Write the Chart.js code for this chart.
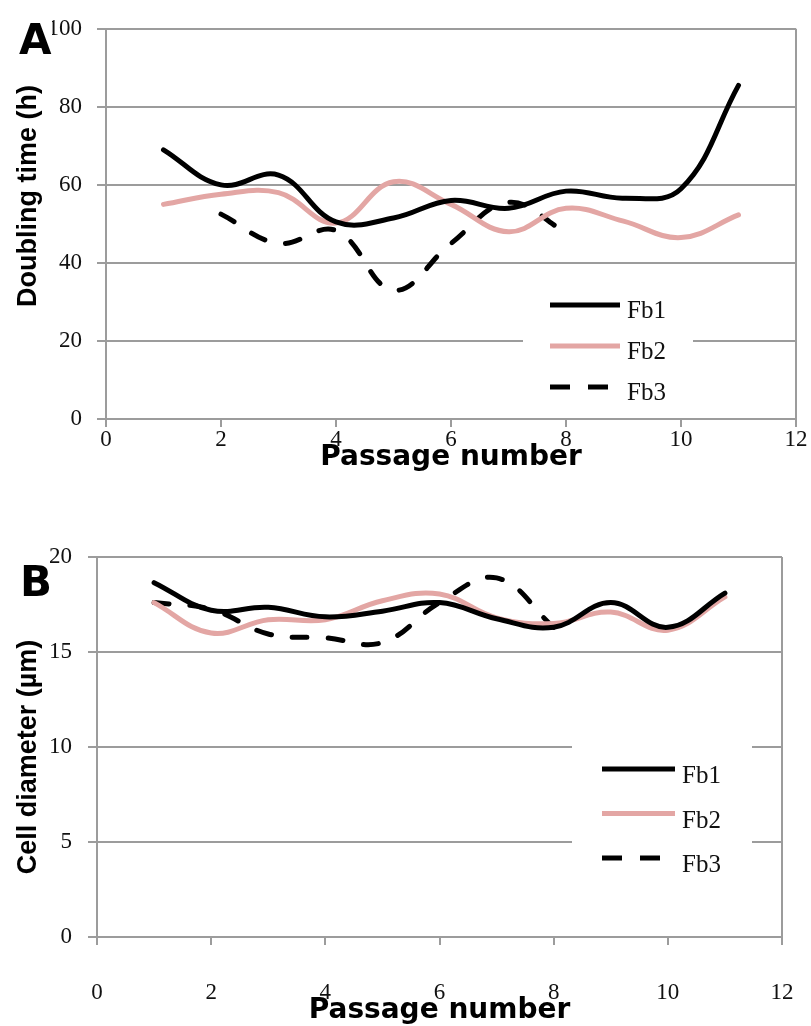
<!DOCTYPE html>
<html>
<head>
<meta charset="utf-8">
<script src="https://cdn.jsdelivr.net/npm/chart.js@4.4.1/dist/chart.umd.min.js"></script>
<style>
  html, body { margin: 0; padding: 0; background: #ffffff; }
  body { width: 811px; height: 1026px; position: relative; overflow: hidden; }
  .wrap { position: absolute; left: 0; width: 811px; }
  #wa { top: 0; height: 475px; }
  #wb { top: 490px; height: 536px; }
  canvas { display: block; }
</style>
</head>
<body>
<div class="wrap" id="wa"><canvas id="ca" width="811" height="475"></canvas></div>
<div class="wrap" id="wb"><canvas id="cb" width="811" height="536"></canvas></div>
<script>
// ---------------- data ----------------
const passage = [1, 2, 3, 4, 5, 6, 7, 8, 9, 10, 11];
const seriesNames = ['Fb1', 'Fb2', 'Fb3'];

// Panel A: doubling time (h)
const fb1Doubling = [69, 60, 62.5, 50.5, 51.5, 56, 54, 58.4, 56.6, 59, 85.5];
const fb2Doubling = [55, 57.6, 58, 50.2, 60.8, 55, 48, 54, 50.7, 46.5, 52.3];
const fb3Doubling = [null, 52.5, 45, 48.3, 33, 45, 55.5, 47.8, null, null, null];

// Panel B: cell diameter (µm)
const fb1Diameter = [18.65, 17.2, 17.35, 16.85, 17.15, 17.6, 16.75, 16.3, 17.6, 16.3, 18.1];
const fb2Diameter = [17.6, 16.0, 16.7, 16.7, 17.7, 18.05, 16.8, 16.5, 17.1, 16.15, 17.9];
const fb3Diameter = [17.6, 17.25, 15.95, 15.75, 15.5, 17.6, 18.9, 16.3, null, null, null];

const xTicks = [0, 2, 4, 6, 8, 10, 12];
const doublingTicks = [0, 20, 40, 60, 80, 100];
const diameterTicks = [0, 5, 10, 15, 20];

// ---------------- styles ----------------
const SERIF = '"Liberation Serif", "Times New Roman", serif';
const SANS = '"Liberation Sans", Arial, sans-serif';
const WIDE = '"DejaVu Sans", sans-serif';
const GRID = '#9c9c9c';
const INK = '#000000';
const PINK = '#e3a6a4';

const seriesStyles = [
  { borderColor: INK, borderWidth: 5, borderDash: [] },
  { borderColor: PINK, borderWidth: 5, borderDash: [] },
  { borderColor: INK, borderWidth: 5, borderDash: [15, 21] }
];

// legend drawn inside plot area, plus panel letter and rotated y title
const panelDecor = {
  id: 'panelDecor',
  beforeDatasetsDraw(chart, args, o) {
    const ctx = chart.ctx;
    const b = o.legend.box;
    ctx.save();
    ctx.fillStyle = '#ffffff';
    ctx.fillRect(b[0], b[1], b[2], b[3]);
    ctx.restore();
  },
  afterDatasetsDraw(chart, args, o) {
    const ctx = chart.ctx;
    const L = o.legend;
    ctx.save();
    chart.data.datasets.forEach((ds, i) => {
      const y = L.y0 + i * L.dy;
      const dashed = ds.borderDash && ds.borderDash.length;
      ctx.beginPath();
      ctx.setLineDash(dashed ? [20, 18] : []);
      ctx.lineCap = 'butt';
      ctx.lineWidth = ds.borderWidth;
      ctx.strokeStyle = ds.borderColor;
      ctx.moveTo(L.x0, y);
      ctx.lineTo(dashed ? L.x0 + 58 : L.x1, y);
      ctx.stroke();
      ctx.setLineDash([]);
      ctx.fillStyle = '#111';
      ctx.font = '25px ' + SERIF;
      ctx.textAlign = 'left';
      ctx.textBaseline = 'alphabetic';
      ctx.fillText(ds.label, L.tx, y + L.tdy);
    });
    // panel letter on a white patch
    const lb = o.letterBox;
    ctx.fillStyle = '#ffffff';
    ctx.fillRect(lb[0], lb[1], lb[2], lb[3]);
    ctx.fillStyle = '#000';
    ctx.font = 'bold 42px ' + WIDE;
    ctx.textAlign = 'left';
    ctx.textBaseline = 'alphabetic';
    ctx.fillText(o.letter, o.letterX, o.letterY);
    // y axis title
    ctx.translate(o.yTitleX, o.yTitleY);
    ctx.rotate(-Math.PI / 2);
    ctx.font = 'bold 27px ' + SANS;
    ctx.textAlign = 'center';
    ctx.textBaseline = 'middle';
    ctx.fillText(o.yTitle, 0, 0);
    ctx.restore();
  }
};

function buildPanel(canvasId, series, yTicks, lay) {
  const toPoints = arr => passage.map((p, i) => ({ x: p, y: arr[i] }));
  const datasets = series.map((arr, i) => ({
    label: seriesNames[i],
    data: toPoints(arr),
    borderColor: seriesStyles[i].borderColor,
    borderWidth: seriesStyles[i].borderWidth,
    borderDash: seriesStyles[i].borderDash,
    borderCapStyle: 'round',
    borderJoinStyle: 'round',
    tension: 0.4,
    pointRadius: 0,
    fill: false,
    spanGaps: false
  }));
  return new Chart(document.getElementById(canvasId), {
    type: 'line',
    data: { datasets },
    options: {
      responsive: false,
      animation: false,
      devicePixelRatio: 1,
      events: [],
      layout: { padding: { top: lay.padTop, right: lay.padRight, left: 0, bottom: 0 } },
      plugins: {
        legend: { display: false },
        tooltip: { enabled: false },
        panelDecor: lay.decor
      },
      scales: {
        x: {
          type: 'linear',
          min: 0, max: 12,
          afterBuildTicks: s => { s.ticks = xTicks.map(v => ({ value: v })); },
          afterFit: s => { s.height = lay.xAxisH; },
          grid: {
            drawOnChartArea: true,
            color: c => (c.tick && c.tick.value === 12) ? GRID : 'rgba(0,0,0,0)',
            tickColor: GRID,
            tickLength: 8,
            lineWidth: 2
          },
          border: { color: GRID, width: 2 },
          ticks: {
            font: { family: SERIF, size: 23, lineHeight: lay.xTickLH },
            color: '#111', padding: 0, maxRotation: 0, autoSkip: false
          },
          title: {
            display: true, text: 'Passage number', color: '#000',
            font: { family: WIDE, weight: 'bold', size: 28, lineHeight: 1 },
            padding: { top: 0, bottom: lay.xTitlePad }
          }
        },
        y: {
          type: 'linear',
          min: yTicks[0], max: yTicks[yTicks.length - 1],
          afterBuildTicks: s => { s.ticks = yTicks.map(v => ({ value: v })); },
          afterFit: s => { s.width = lay.yAxisW; },
          grid: { color: GRID, lineWidth: 2, tickLength: 9 },
          border: { color: GRID, width: 2 },
          ticks: { font: { family: SERIF, size: 23 }, color: '#111', padding: lay.yTickPad },
          title: { display: false }
        }
      }
    },
    plugins: [panelDecor]
  });
}

buildPanel('ca', [fb1Doubling, fb2Doubling, fb3Doubling], doublingTicks, {
  padTop: 13, padRight: 15, yAxisW: 106, xAxisH: 56, xTickLH: 1.1, xTitlePad: 3, yTickPad: 15,
  decor: {
    letter: 'A', letterX: 19, letterY: 54, letterBox: [16, 16, 36, 42],
    yTitle: 'Doubling time (h)', yTitleX: 29, yTitleY: 196,
    legend: { box: [523, 283, 170, 125], x0: 550, x1: 620, tx: 627, y0: 305, dy: 41, tdy: 13 }
  }
});

buildPanel('cb', [fb1Diameter, fb2Diameter, fb3Diameter], diameterTicks, {
  padTop: 67, padRight: 29, yAxisW: 97, xAxisH: 89, xTickLH: 4.17, xTitlePad: 1, yTickPad: 16,
  decor: {
    letter: 'B', letterX: 20, letterY: 106, letterBox: [16, 70, 34, 40],
    yTitle: 'Cell diameter (µm)', yTitleX: 29, yTitleY: 267,
    legend: { box: [572, 250, 180, 145], x0: 602, x1: 675, tx: 682, y0: 279, dy: 44.5, tdy: 14 }
  }
});
</script>
</body>
</html>
